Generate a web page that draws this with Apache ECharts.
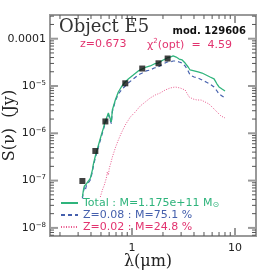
<!DOCTYPE html>
<html><head><meta charset="utf-8">
<script src="https://cdn.jsdelivr.net/npm/echarts@6/dist/echarts.min.js"></script>
<style>html,body{margin:0;padding:0;background:#fff}#c{width:270px;height:270px}</style>
</head><body><div id="c"></div>
<script>
// wavelength grid (micron) shared by the model curves
const waveGrid = [0.330,0.338,0.345,0.353,0.361,0.378,0.386,0.395,0.413,0.422,0.441,0.461,0.482,0.504,0.528,0.551,0.576,0.590,0.603,0.616,0.630,0.645,0.689,0.737,0.788,0.842,0.921,1.029,1.151,1.258,1.375,1.504,1.644,1.797,2.009,2.197,2.349,2.511,2.685,2.871,3.069,3.281,3.508,3.667,4.010,4.384,4.792,5.240,5.728,6.263,6.696,7.001,7.484,8.003];
const totalFlux = [4.5e-8,6.33e-8,7.69e-8,6.98e-8,8.48e-8,9.81e-8,8.9e-8,1.135e-7,1.68e-7,2.24e-7,3.31e-7,4.66e-7,6.55e-7,9.21e-7,1.29e-6,1.82e-6,2.32e-6,2.69e-6,2.82e-6,2.82e-6,1.73e-6,3.11e-6,5.06e-6,7.47e-6,9.53e-6,1.157e-5,1.41e-5,1.71e-5,2.08e-5,2.29e-5,2.52e-5,2.65e-5,2.92e-5,3.06e-5,3.55e-5,3.91e-5,4.10e-5,4.31e-5,4.10e-5,3.72e-5,3.55e-5,3.06e-5,2.52e-5,2.18e-5,2.08e-5,1.98e-5,1.88e-5,1.71e-5,1.55e-5,1.41e-5,1.10e-5,9.53e-6,8.64e-6,7.84e-6];
const z008Flux = [4.2e-8,5.9e-8,7.1e-8,6.4e-8,7.8e-8,9.0e-8,8.2e-8,1.04e-7,1.55e-7,2.06e-7,3.05e-7,4.3e-7,6.0e-7,8.5e-7,1.19e-6,1.67e-6,2.13e-6,2.47e-6,2.6e-6,2.6e-6,1.6e-6,2.86e-6,4.82e-6,6.77e-6,8.23e-6,9.53e-6,1.157e-5,1.41e-5,1.71e-5,1.88e-5,2.08e-5,2.18e-5,2.40e-5,2.52e-5,2.92e-5,3.22e-5,3.22e-5,3.38e-5,3.38e-5,3.22e-5,3.06e-5,2.65e-5,2.08e-5,1.71e-5,1.55e-5,1.476e-5,1.34e-5,1.215e-5,1.10e-5,9.53e-6,7.84e-6,6.77e-6,6.15e-6,5.58e-6];
const z002Wave = [0.493,0.516,0.539,0.564,0.576,0.590,0.603,0.616,0.645,0.689,0.737,0.788,0.861,0.963,1.076,1.203,1.345,1.504,1.681,1.879,2.101,2.349,2.626,2.935,3.281,3.587,3.921,4.287,4.688,5.125,5.603,6.124,6.696,7.321,8.003];
const z002Flux = [4.5e-8,6.33e-8,8.07e-8,1.135e-7,1.52e-7,1.31e-7,1.85e-7,2.14e-7,3.15e-7,4.89e-7,7.22e-7,1.014e-6,1.50e-6,2.21e-6,2.82e-6,3.78e-6,4.59e-6,5.58e-6,6.45e-6,7.11e-6,8.23e-6,9.07e-6,9.53e-6,9.07e-6,8.23e-6,5.85e-6,5.31e-6,5.06e-6,5.06e-6,4.59e-6,4.16e-6,3.43e-6,2.82e-6,2.32e-6,2.11e-6];
const obsWave = [0.330,0.441,0.552,0.861,1.258,1.81,2.22];
const obsFlux = [9.8e-8,4.23e-7,1.78e-6,1.14e-5,2.34e-5,3.02e-5,3.81e-5];

const xTickValues = [1, 10];
const xTickLabels = ['1', '10'];
const xMinorTicks = [0.2,0.3,0.4,0.5,0.6,0.7,0.8,0.9,2,3,4,5,6,7,8,9];
const yTickValues = [1e-8, 1e-7, 1e-6, 1e-5, 1e-4];
const yTickLabels = ['10{sup|\u22128}', '10{sup|\u22127}', '10{sup|\u22126}', '10{sup|\u22125}', '0.0001'];
const yMinorTicks = [7e-9,8e-9,9e-9,2e-8,3e-8,4e-8,5e-8,6e-8,7e-8,8e-8,9e-8,2e-7,3e-7,4e-7,5e-7,6e-7,7e-7,8e-7,9e-7,2e-6,3e-6,4e-6,5e-6,6e-6,7e-6,8e-6,9e-6,2e-5,3e-5,4e-5,5e-5,6e-5,7e-5,8e-5,9e-5,2e-4,3e-4];
const seriesNames = ['Total', 'Z=0.08', 'Z=0.02'];
const legendLabels = ['Total : M=1.175e+11 M{sub|\u2299}', 'Z=0.08 : M=75.1 %', 'Z=0.02 : M=24.8 %'];

const GREEN = '#2fb47c', BLUE = '#4560ad', PINK = '#e2336f', PINKL = '#ea5a8e';

function pairs(xs, ys) { return xs.map((x, i) => [x, ys[i]]); }
function findLabel(v, vals, labs) {
  const lv = Math.log10(v);
  for (let i = 0; i < vals.length; i++) if (Math.abs(lv - Math.log10(vals[i])) < 1e-3) return labs[i];
  return '';
}
function tickSeries(values, axis, len, color, width) {
  return {
    type: 'custom', silent: true, z: 6, clip: false,
    data: values.map(v => axis === 'x' ? [v, 1e-6] : [1, v]),
    renderItem: function (params, api) {
      const cs = params.coordSys;
      const p = api.coord([api.value(0), api.value(1)]);
      const st = { stroke: color, lineWidth: width };
      if (axis === 'x') {
        const b = cs.y + cs.height, t = cs.y;
        return { type: 'group', children: [
          { type: 'line', shape: { x1: p[0], y1: b, x2: p[0], y2: b - len }, style: st },
          { type: 'line', shape: { x1: p[0], y1: t, x2: p[0], y2: t + len }, style: st }
        ] };
      } else {
        const l = cs.x, r = cs.x + cs.width;
        return { type: 'group', children: [
          { type: 'line', shape: { x1: l, y1: p[1], x2: l + len, y2: p[1] }, style: st },
          { type: 'line', shape: { x1: r, y1: p[1], x2: r - len, y2: p[1] }, style: st }
        ] };
      }
    }
  };
}

const chart = echarts.init(document.getElementById('c'), null, { renderer: 'canvas' });
chart.setOption({
  animation: false,
  backgroundColor: '#fff',
  grid: { left: 50, right: 14, top: 15, bottom: 34, show: true, borderColor: '#999', borderWidth: 2, backgroundColor: 'transparent', containLabel: false, outerBoundsMode: 'none' },
  title: [
    { text: 'Object E5', left: 59, top: 18, padding: 0, textStyle: { fontFamily: 'DejaVu Serif', fontSize: 18, fontWeight: 'normal', color: '#333' } },
    { text: 'mod. 129606', right: 24, top: 26, padding: 0, textStyle: { fontFamily: 'DejaVu Sans', fontSize: 10, fontWeight: 'bold', color: '#111' } },
    { text: 'z=0.673', left: 80, top: 39, padding: 0, textStyle: { fontFamily: 'DejaVu Sans', fontSize: 11, fontWeight: 'normal', color: PINK } },
    { text: '\u03c7{sup|2}(opt)  =  4.59', left: 147, top: 38, padding: 0, textStyle: { fontFamily: 'DejaVu Sans', fontSize: 11, fontWeight: 'normal', color: PINK, lineHeight: 14, rich: { sup: { fontSize: 7, lineHeight: 9, verticalAlign: 'top', color: PINK, fontFamily: 'DejaVu Sans' } } } }
  ],
  legend: {
    orient: 'vertical', left: 60, top: 197, itemWidth: 17, itemHeight: 8, itemGap: 0, padding: 0,
    selectedMode: false,
    itemStyle: { opacity: 0 },
    data: [
      { name: seriesNames[0], textStyle: { color: GREEN } },
      { name: seriesNames[1], textStyle: { color: BLUE } },
      { name: seriesNames[2], textStyle: { color: PINK } }
    ],
    formatter: name => legendLabels[seriesNames.indexOf(name)],
    textStyle: { fontFamily: 'DejaVu Sans', fontSize: 11, lineHeight: 12, rich: { sub: { fontSize: 8, lineHeight: 8, verticalAlign: 'bottom', fontFamily: 'DejaVu Sans' } } }
  },
  xAxis: {
    type: 'log', logBase: 10, min: 0.16, max: 16,
    axisLine: { show: false }, axisTick: { show: false }, splitLine: { show: false },
    axisLabel: { showMinLabel: false, showMaxLabel: false, margin: 7, fontFamily: 'DejaVu Sans', fontSize: 11, color: '#222',
      formatter: v => findLabel(v, xTickValues, xTickLabels) },
    name: '\u03bb(\u03bcm)', nameLocation: 'middle', nameGap: 18, nameMoveOverlap: false,
    nameTextStyle: { fontFamily: 'DejaVu Serif', fontSize: 16, color: '#222', padding: [0, 10, 0, 0] }
  },
  yAxis: {
    type: 'log', logBase: 10, min: 6.74e-9, max: 3.17e-4,
    axisLine: { show: false }, axisTick: { show: false }, splitLine: { show: false },
    axisLabel: { showMinLabel: false, showMaxLabel: false, margin: 4, fontFamily: 'DejaVu Sans', fontSize: 11, color: '#222', lineHeight: 13,
      rich: { sup: { fontSize: 7, lineHeight: 8, verticalAlign: 'top', fontFamily: 'DejaVu Sans', color: '#222' } },
      formatter: v => findLabel(v, yTickValues, yTickLabels) },
    name: 'S(\u03bd)  (Jy)', nameLocation: 'middle', nameGap: 32, nameRotate: 90, nameMoveOverlap: false,
    nameTextStyle: { fontFamily: 'DejaVu Serif', fontSize: 16, color: '#222' }
  },
  series: [
    tickSeries(xMinorTicks, 'x', 4, '#555', 1),
    tickSeries(xTickValues, 'x', 8, '#999', 2),
    tickSeries(yMinorTicks, 'y', 4, '#555', 1),
    tickSeries(yTickValues, 'y', 8, '#999', 2),
    { name: seriesNames[2], type: 'line', data: pairs(z002Wave, z002Flux), symbol: 'none', showSymbol: false, z: 2,
      lineStyle: { color: PINKL, width: 1, type: [1, 1.5] }, itemStyle: { color: PINKL } },
    { name: seriesNames[1], type: 'line', data: pairs(waveGrid, z008Flux), symbol: 'none', showSymbol: false, z: 3,
      lineStyle: { color: BLUE, width: 1.2, type: [4, 3] }, itemStyle: { color: BLUE } },
    { name: seriesNames[0], type: 'line', data: pairs(waveGrid, totalFlux), symbol: 'none', showSymbol: false, z: 4,
      lineStyle: { color: GREEN, width: 1.3 }, itemStyle: { color: GREEN } },
    { name: 'obs', type: 'scatter', data: pairs(obsWave, obsFlux), symbol: 'rect', symbolSize: 6, z: 5,
      itemStyle: { color: '#111' } }
  ]
});
</script>
</body></html>
